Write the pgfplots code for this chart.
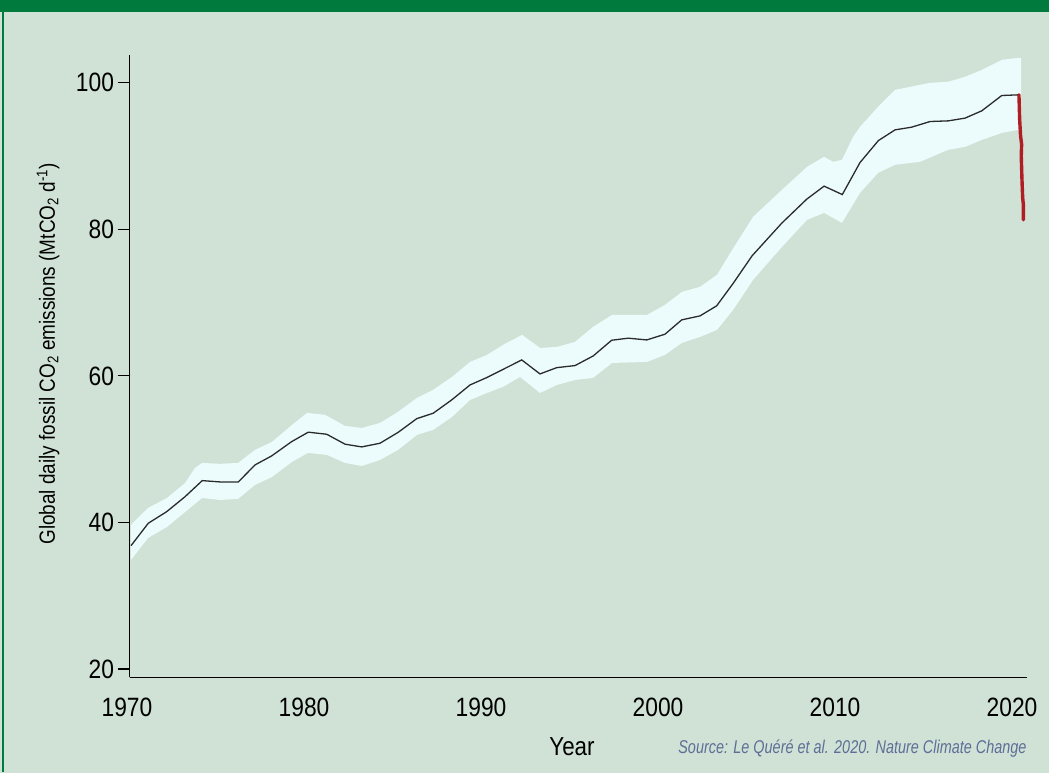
\documentclass[border=0pt]{standalone}
\usepackage{fontspec}
\setmainfont{Liberation Sans}[FakeStretch=0.86]
\newfontfamily\srcfont{Liberation Sans}[FakeStretch=0.78]
\usepackage{pgfplots}
\pgfplotsset{compat=1.18}
\usepgfplotslibrary{fillbetween}
\definecolor{bgc}{HTML}{D0E2D6}
\definecolor{topgreen}{HTML}{007A3D}
\definecolor{bandc}{HTML}{ECFCFC}
\definecolor{linec}{HTML}{2A2A2A}
\definecolor{redc}{HTML}{B01E24}
\definecolor{srcc}{HTML}{5E6E96}
\pagecolor{bgc}
\begin{document}
\begin{tikzpicture}[x=1bp,y=1bp]
\path (0,0) rectangle (1049,772);
\begin{axis}[
  at={(129.5bp,94.5bp)}, anchor=south west,
  width=897.4bp, height=622.5bp, scale only axis,
  xmin=1970, xmax=2020.7, ymin=18.84, ymax=103.8,
  axis lines=left,
  axis line style={-, line width=1.1bp, black},
  xtick={1970,1980,...,2020}, ytick={20,40,...,100},
  tick align=outside, major tick length=12bp,
  xtick style={draw=none},
  ytick style={line width=1.1bp, black},
  ticklabel style={font=\fontsize{26.5bp}{30bp}\selectfont},
  /pgf/number format/assume math mode=true,
  /pgf/number format/1000 sep={},
  xticklabel style={xshift=-2.5bp, yshift=-5bp},
  clip=false,
]
\addplot[name path=U, draw=none] coordinates {
(1970.08,39.66) (1971.05,41.98) (1972.12,43.34) (1973.14,45.39) (1973.70,47.44)
(1974.10,48.12) (1975.11,48.00) (1976.13,48.12) (1977.09,49.90) (1978.05,50.99)
(1979.18,53.31) (1980.03,54.95) (1981.05,54.68) (1982.18,53.17) (1983.14,52.90)
(1984.15,53.58) (1985.17,55.09) (1986.24,57.00) (1987.15,58.09) (1988.22,59.86)
(1989.24,61.91) (1990.20,62.87) (1991.10,64.23) (1992.18,65.60) (1993.19,63.82)
(1994.15,63.96) (1995.17,64.64) (1996.19,66.69) (1997.26,68.33) (1999.24,68.33)
(2000.25,69.69) (2001.21,71.47) (2002.23,72.15) (2003.19,73.79) (2004.10,77.40)
(2005.23,81.71) (2006.86,85.39) (2008.28,88.53) (2009.24,89.90) (2009.75,89.22)
(2010.25,89.49) (2010.88,92.63) (2011.27,93.99) (2012.29,96.72) (2013.25,99.04)
(2015.23,100.00) (2016.24,100.14) (2017.20,100.82) (2018.16,101.77) (2019.29,103.14)
(2020.20,103.41) (2020.37,103.41)
};
\addplot[name path=L, draw=none] coordinates {
(1970.08,34.88) (1971.05,37.88) (1972.12,39.39) (1973.14,41.43) (1974.10,43.34)
(1975.11,43.07) (1976.13,43.21) (1977.09,45.12) (1978.05,46.21) (1979.18,48.26)
(1980.08,49.49) (1981.16,49.22) (1982.18,48.12) (1983.14,47.71) (1984.15,48.53)
(1985.17,49.90) (1986.24,51.95) (1987.15,52.63) (1988.22,54.40) (1989.24,56.72)
(1990.20,57.68) (1991.10,58.50) (1992.06,59.86) (1993.19,57.68) (1994.15,58.77)
(1995.17,59.45) (1996.19,59.73) (1997.26,61.77) (1999.24,61.91) (2000.25,62.87)
(2001.21,64.51) (2002.23,65.32) (2003.19,66.28) (2004.10,69.01) (2005.23,73.11)
(2006.86,77.61) (2008.28,81.30) (2009.24,82.25) (2010.25,80.89) (2011.27,84.98)
(2012.29,87.71) (2013.25,88.81) (2014.66,89.22) (2016.24,90.85) (2017.20,91.26)
(2018.16,92.22) (2019.29,93.17) (2020.20,93.58) (2020.37,93.58)
};
\addplot[bandc, draw=none] fill between[of=U and L];
\addplot[linec, line width=1.3bp] coordinates {
(1970.085,36.83) (1971.06,39.89) (1972.10,41.47) (1973.14,43.52) (1974.11,45.71)
(1975.11,45.53) (1976.15,45.53) (1977.09,47.85) (1978.03,49.08) (1979.16,51.03)
(1980.10,52.32) (1981.14,52.04) (1982.18,50.68) (1983.12,50.31) (1984.15,50.81)
(1985.19,52.32) (1986.23,54.17) (1987.16,54.91) (1988.20,56.72) (1989.24,58.77)
(1990.18,59.77) (1991.16,60.96) (1992.16,62.18) (1993.19,60.27) (1994.14,61.13)
(1995.17,61.41) (1996.20,62.73) (1997.24,64.87) (1998.18,65.15) (1999.22,64.91)
(2000.25,65.69) (2001.20,67.65) (2002.23,68.19) (2003.17,69.56) (2004.11,72.65)
(2005.17,76.38) (2006.85,80.85) (2008.26,84.12) (2009.24,85.90) (2010.27,84.75)
(2011.27,89.12) (2012.31,92.12) (2013.25,93.58) (2014.19,93.95) (2015.23,94.72)
(2016.26,94.81) (2017.20,95.18) (2018.15,96.18) (2019.28,98.27) (2020.21,98.36)
};
\addplot[redc, line width=3.4bp, line join=round, line cap=round] coordinates {
(2020.25,98.36) (2020.29,95.0) (2020.34,92.8) (2020.40,91.6) (2020.38,90.0)
(2020.42,86.8) (2020.46,84.3) (2020.50,83.4) (2020.50,81.3)
};
\end{axis}
\fill[topgreen] (0,760) rectangle (1049,772);
\draw[topgreen,line width=1.2bp] (3,0) -- (3,760);
\node[rotate=90, font=\fontsize{22bp}{26bp}\selectfont] at (48,418)
  {Global daily fossil CO\textsubscript{2} emissions (MtCO\textsubscript{2} d\textsuperscript{-1})};
\node[font=\fontsize{26bp}{30bp}\selectfont] at (572,25) {Year};
\node[anchor=east, font=\srcfont\fontsize{18.5bp}{23bp}\selectfont\itshape, text=srcc] at (1030,23)
  {Source: Le Quéré et al. 2020. Nature Climate Change};
\end{tikzpicture}
\end{document}
